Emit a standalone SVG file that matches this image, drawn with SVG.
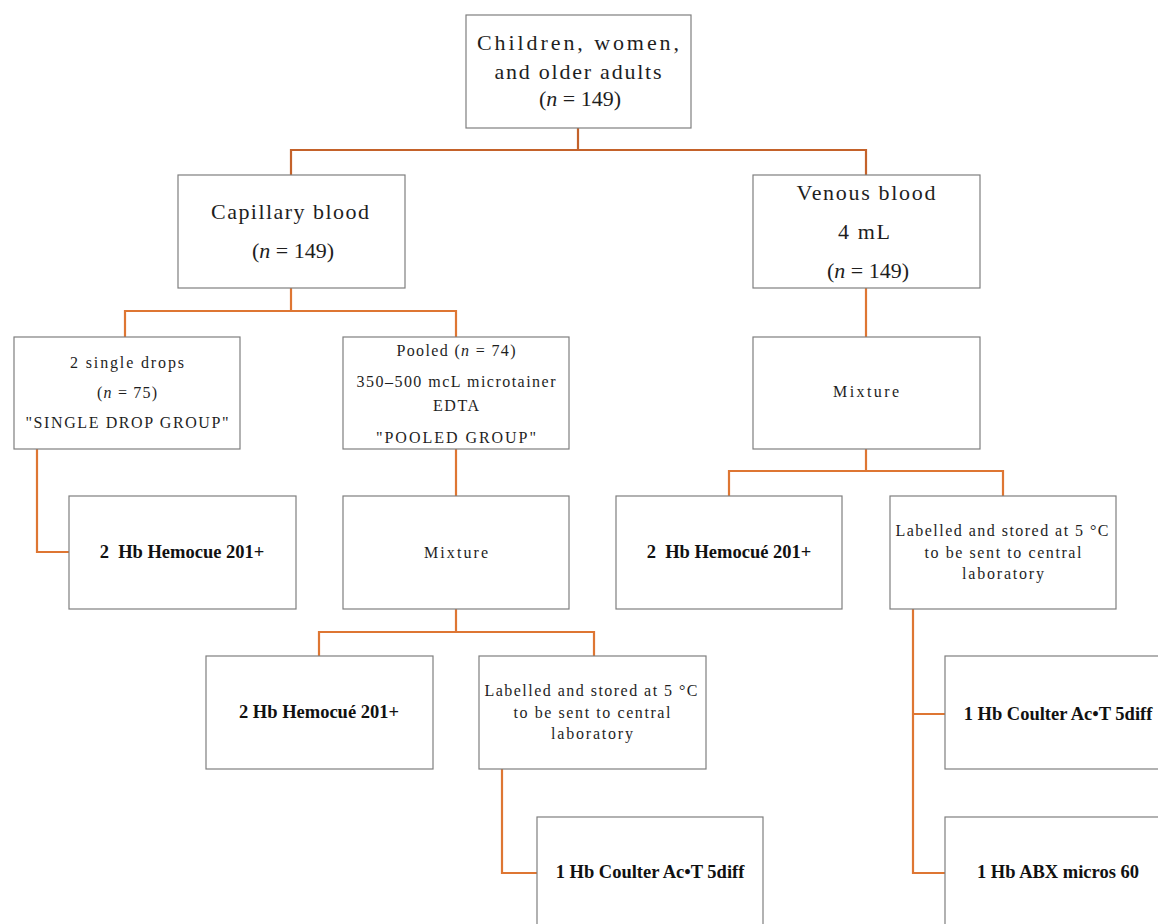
<svg xmlns="http://www.w3.org/2000/svg" width="1158" height="924" viewBox="0 0 1158 924">
<style>
.box{fill:#fff;stroke:#7f7f7f;stroke-width:1.2}
.ln{fill:none;stroke:#de7633;stroke-width:2.2}
.ln0{fill:none;stroke:#c4622a;stroke-width:2.2}
.t{font-family:"Liberation Serif","DejaVu Serif",serif;fill:#1e1e1e;text-anchor:middle}
.lg{font-size:22px}
.sm{font-size:16px}
.b{font-family:"Liberation Serif","DejaVu Serif",serif;font-weight:bold;font-size:18.5px;fill:#111;text-anchor:middle}
.i{font-style:italic}
</style>
<rect width="1158" height="924" fill="#fff"/>
<g id="connectors">
<path class="ln0" d="M578,128 V150 M291,175 V150 H866 V175"/>
<path class="ln" d="M291,288 V311 M125,337 V311 H456 V337"/>
<path class="ln" d="M866,288 V337"/>
<path class="ln" d="M37,449 V552 H69"/>
<path class="ln" d="M456,449 V496"/>
<path class="ln" d="M866,449 V471 M729,496 V471 H1003 V496"/>
<path class="ln" d="M456,609 V632 M319,656 V632 H594 V656"/>
<path class="ln" d="M502,769 V873 H537"/>
<path class="ln" d="M913,609 V873 H945 M913,714 H945"/>
</g>
<g id="n-top">
<rect class="box" x="466" y="15" width="225" height="113"/>
<text class="t lg" x="578" y="50" textLength="202">Children, women,</text>
<text class="t lg" x="578" y="79" textLength="167">and older adults</text>
<text class="t lg" x="580" y="106" textLength="82">(<tspan class="i">n</tspan> = 149)</text>
</g>
<g id="n-capillary">
<rect class="box" x="178" y="175" width="227" height="113"/>
<text class="t lg" x="290" y="219" textLength="158">Capillary blood</text>
<text class="t lg" x="293" y="258" textLength="82">(<tspan class="i">n</tspan> = 149)</text>
</g>
<g id="n-venous">
<rect class="box" x="753" y="175" width="227" height="113"/>
<text class="t lg" x="866" y="200" textLength="139">Venous blood</text>
<text class="t lg" x="864" y="239" textLength="52">4 mL</text>
<text class="t lg" x="868" y="278" textLength="82">(<tspan class="i">n</tspan> = 149)</text>
</g>
<g id="n-single">
<rect class="box" x="14" y="337" width="226" height="112"/>
<text class="t sm" x="127" y="368" textLength="114">2 single drops</text>
<text class="t sm" x="127" y="398" textLength="60">(<tspan class="i">n</tspan> = 75)</text>
<text class="t sm" x="127" y="428" textLength="203">"SINGLE DROP GROUP"</text>
</g>
<g id="n-pooled">
<rect class="box" x="343" y="337" width="226" height="112"/>
<text class="t sm" x="456" y="356" textLength="119">Pooled (<tspan class="i">n</tspan> = 74)</text>
<text class="t sm" x="456" y="387" textLength="199">350–500 mcL microtainer</text>
<text class="t sm" x="456" y="411" textLength="46">EDTA</text>
<text class="t sm" x="456" y="443" textLength="160">"POOLED GROUP"</text>
</g>
<g id="n-vmix">
<rect class="box" x="753" y="337" width="227" height="112"/>
<text class="t sm" x="866" y="397" textLength="66">Mixture</text>
</g>
<g id="n-hemocue1">
<rect class="box" x="69" y="496" width="227" height="113"/>
<text class="b" x="182" y="558" xml:space="preserve">2  Hb Hemocue 201+</text>
</g>
<g id="n-mix">
<rect class="box" x="343" y="496" width="226" height="113"/>
<text class="t sm" x="456" y="558" textLength="64">Mixture</text>
</g>
<g id="n-hemocue3">
<rect class="box" x="616" y="496" width="226" height="113"/>
<text class="b" x="729" y="558" xml:space="preserve">2  Hb Hemocué 201+</text>
</g>
<g id="n-label2">
<rect class="box" x="890" y="496" width="226" height="113"/>
<text class="t sm" x="1002" y="536" textLength="213">Labelled and stored at 5 °C</text>
<text class="t sm" x="1003" y="558" textLength="157">to be sent to central</text>
<text class="t sm" x="1003" y="579" textLength="82">laboratory</text>
</g>
<g id="n-hemocue2">
<rect class="box" x="206" y="656" width="227" height="113"/>
<text class="b" x="319" y="718">2 Hb Hemocué 201+</text>
</g>
<g id="n-label1">
<rect class="box" x="479" y="656" width="227" height="113"/>
<text class="t sm" x="591" y="696" textLength="213">Labelled and stored at 5 °C</text>
<text class="t sm" x="592" y="718" textLength="157">to be sent to central</text>
<text class="t sm" x="592" y="739" textLength="82">laboratory</text>
</g>
<g id="n-coulter1">
<rect class="box" x="537" y="817" width="226" height="113"/>
<text class="b" x="650" y="878">1 Hb Coulter Ac•T 5diff</text>
</g>
<g id="n-coulter2">
<rect class="box" x="945" y="656" width="226" height="113"/>
<text class="b" x="1058" y="720">1 Hb Coulter Ac•T 5diff</text>
</g>
<g id="n-abx">
<rect class="box" x="945" y="817" width="226" height="113"/>
<text class="b" x="1058" y="878">1 Hb ABX micros 60</text>
</g>
</svg>
